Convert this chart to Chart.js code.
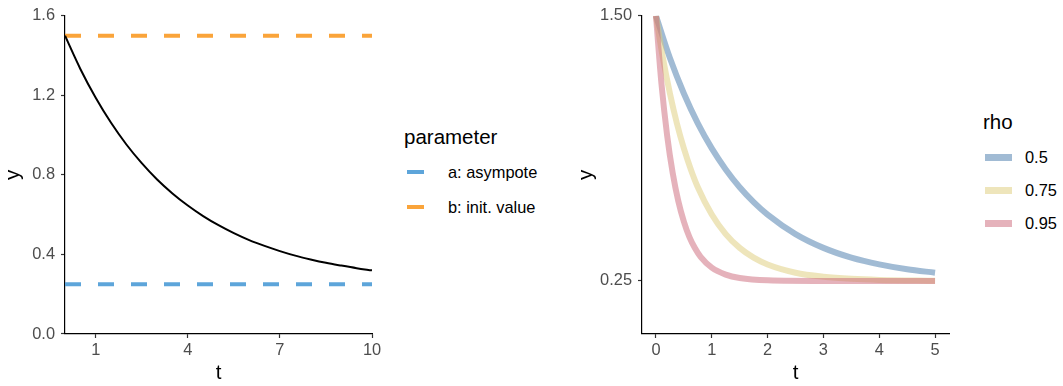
<!DOCTYPE html>
<html>
<head>
<meta charset="utf-8">
<script src="https://cdn.jsdelivr.net/npm/chart.js@4"></script>
<style>
  body { margin: 0; background: #fff; font-family: "Liberation Sans", Arial, Helvetica, sans-serif; }
  #wrap { position: relative; width: 1063px; height: 386px; overflow: hidden; }
  #wrap canvas { position: absolute; top: 0; }
  .lg-title { position: absolute; font-size: 20.5px; line-height: 24px; color: #000; white-space: nowrap; }
  .lg-item { position: absolute; height: 20px; display: flex; align-items: center; font-size: 16.4px; color: #000; white-space: nowrap; }
</style>
</head>
<body>
<div id="wrap">
  <canvas id="decayChart" width="400" height="386" style="left:0"></canvas>
  <canvas id="rhoChart" width="400" height="386" style="left:570px"></canvas>
</div>
<script>
// left panel: one decay curve plus its asymptote and starting value
const tDecay = [0, 0.5, 1, 1.5, 2, 2.5, 3, 3.5, 4, 4.5, 5, 5.5, 6, 6.5, 7, 7.5, 8, 8.5, 9, 9.5, 10];
const yDecay = [1.500, 1.333, 1.188, 1.062, 0.953, 0.859, 0.777, 0.707, 0.646, 0.593, 0.547,
                0.507, 0.472, 0.443, 0.417, 0.394, 0.375, 0.358, 0.344, 0.331, 0.320];
const paramNames = ['a: asympote', 'b: init. value'];
const paramValues = [0.25, 1.5];
const tRangeLeft = [0, 10];
const xTicksLeft = [1, 4, 7, 10];
const yTicksLeft = [0, 0.4, 0.8, 1.2, 1.6];

// right panel: same decay for three values of rho
const rhoNames = ['0.5', '0.75', '0.95'];
const tRho05 = [0, 0.25, 0.5, 0.75, 1, 1.25, 1.5, 1.75, 2, 2.5, 3, 3.5, 4, 4.5, 5];
const yRho05 = [1.500, 1.301, 1.134, 0.993, 0.875, 0.776, 0.692, 0.622, 0.563, 0.471, 0.406, 0.360, 0.328, 0.305, 0.289];
const tRho075 = [0, 0.125, 0.25, 0.375, 0.5, 0.625, 0.75, 1, 1.25, 1.5, 1.75, 2, 2.5, 3, 3.5, 4, 5];
const yRho075 = [1.500, 1.301, 1.134, 0.993, 0.875, 0.776, 0.692, 0.563, 0.471, 0.406, 0.360, 0.328, 0.289, 0.270, 0.260, 0.255, 0.251];
const tRho095 = [0, 0.1, 0.2, 0.3, 0.4, 0.5, 0.6, 0.7, 0.8, 1, 1.25, 1.5, 2, 3, 5];
const yRho095 = [1.500, 1.176, 0.937, 0.759, 0.627, 0.530, 0.457, 0.404, 0.364, 0.313, 0.280, 0.264, 0.253, 0.250, 0.250];
const tRangeRight = [-0.25, 5.25];
const xTicksRight = [0, 1, 2, 3, 4, 5];
const yTicksRight = [0.25, 1.5];

const FONT = '"Liberation Sans", Arial, Helvetica, sans-serif';
const paramColors = ['#5DA5DA', '#FAA43A'];
const rhoColors = ['rgba(68,119,170,0.5)', 'rgba(221,204,119,0.5)', 'rgba(204,102,119,0.5)'];

const toPoints = (xs, ys) => xs.map((x, i) => ({ x: x, y: ys[i] }));

function axis(min, max, tickList, fmt, titleText, size, horizontal) {
    return {
        type: 'linear',
        min: min,
        max: max,
        border: { display: true, color: '#000', width: 1.2 },
        grid: { drawOnChartArea: false, drawTicks: true, tickLength: 4, tickColor: '#333', tickWidth: 1.2 },
        ticks: {
            color: '#4d4d4d',
            font: { family: FONT, size: 16.4 },
            padding: horizontal ? 3 : 6,
            maxRotation: 0,
            autoSkip: false,
            callback: v => fmt(v)
        },
        title: {
            display: true,
            text: titleText,
            color: '#000',
            font: { family: FONT, size: 20.5 },
            padding: { top: 1, bottom: 0 }
        },
        afterBuildTicks: s => { s.ticks = tickList.map(v => ({ value: v })); },
        afterFit: s => { if (horizontal) s.height = size; else s.width = size; }
    };
}

const baseOptions = {
    responsive: false,
    animation: false,
    events: [],
    plugins: { legend: { display: false }, tooltip: { enabled: false } },
    elements: { point: { radius: 0 } }
};

// decay curve with dashed reference lines
new Chart(document.getElementById('decayChart').getContext('2d'), {
    type: 'line',
    data: {
        datasets: [
            {
                data: toPoints(tDecay, yDecay),
                borderColor: '#000',
                borderWidth: 2,
                cubicInterpolationMode: 'monotone',
                order: 0
            },
            ...paramValues.map((v, i) => ({
                data: toPoints(tRangeLeft, [v, v]),
                borderColor: paramColors[i],
                borderWidth: 4,
                borderDash: [16, 17],
                borderCapStyle: 'butt',
                order: i + 1
            }))
        ]
    },
    options: {
        ...baseOptions,
        layout: { padding: { left: 0, top: 14, right: 28, bottom: 0 } },
        scales: {
            x: axis(tRangeLeft[0], tRangeLeft[1], xTicksLeft, v => String(v), 't', 52, true),
            y: axis(0, 1.6, yTicksLeft, v => v.toFixed(1), 'y', 65, false)
        }
    }
});

// three rho curves, thick and semi-transparent
const rhoT = [tRho05, tRho075, tRho095];
const rhoY = [yRho05, yRho075, yRho095];
new Chart(document.getElementById('rhoChart').getContext('2d'), {
    type: 'line',
    data: {
        datasets: rhoNames.map((name, i) => ({
            label: name,
            data: toPoints(rhoT[i], rhoY[i]),
            borderColor: rhoColors[i],
            borderWidth: 6,
            borderCapStyle: 'butt',
            cubicInterpolationMode: 'monotone',
            order: rhoNames.length - i
        }))
    },
    options: {
        ...baseOptions,
        layout: { padding: { left: 3, top: 14, right: 21, bottom: 0 } },
        scales: {
            x: axis(tRangeRight[0], tRangeRight[1], xTicksRight, v => String(v), 't', 52, true),
            y: axis(0, 1.5, yTicksRight, v => v.toFixed(2), 'y', 69, false)
        }
    }
});

// legends
function legend(title, titleLeft, titleMid, names, colors, keyLeft, keyW, keyH, gap, mids) {
    const wrap = document.getElementById('wrap');
    const t = document.createElement('div');
    t.className = 'lg-title';
    t.textContent = title;
    t.style.left = titleLeft + 'px';
    t.style.top = (titleMid - 12) + 'px';
    wrap.appendChild(t);
    names.forEach((name, i) => {
        const item = document.createElement('div');
        item.className = 'lg-item';
        item.style.left = keyLeft + 'px';
        item.style.top = (mids[i] - 10) + 'px';
        const key = document.createElement('span');
        key.style.cssText = 'display:inline-block;width:' + keyW + 'px;height:' + keyH + 'px;background:' + colors[i] + ';margin-right:' + gap + 'px';
        item.appendChild(key);
        item.appendChild(document.createTextNode(name));
        wrap.appendChild(item);
    });
}
legend('parameter', 404, 137, paramNames, paramColors, 407, 17, 4, 24, [172, 207]);
legend('rho', 983, 122, rhoNames, rhoColors, 985, 27, 7, 13, [157, 190, 223]);
</script>
</body>
</html>
